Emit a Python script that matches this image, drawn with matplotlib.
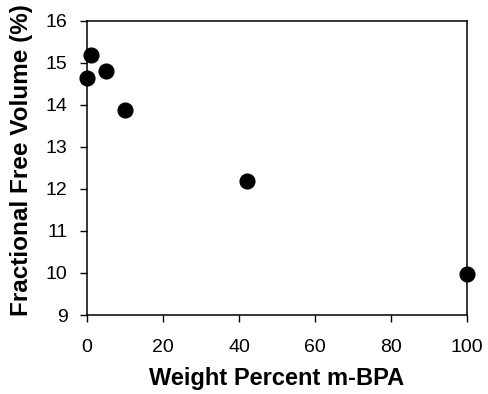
import numpy as np
import matplotlib
matplotlib.use('Agg')
import matplotlib.pyplot as plt

plt.rcParams['font.family'] = ['Liberation Sans', 'DejaVu Sans']

# data
wt_mbpa = [0, 1, 5, 10, 42, 100]
ffv = [14.63, 15.18, 14.81, 13.87, 12.18, 9.97]

xticks = [0, 20, 40, 60, 80, 100]
yticks = [9, 10, 11, 12, 13, 14, 15, 16]

fig = plt.figure(figsize=(4.89, 3.94), dpi=100)
ax = fig.add_axes([0.178, 0.2005, 0.777, 0.747])

ax.plot(wt_mbpa, ffv, 'o', color='k', markersize=10.6, clip_on=False, zorder=3)

ax.set_xlim(0, 100)
ax.set_ylim(9, 16)
ax.set_xticks(xticks)
ax.set_yticks(yticks)
ax.tick_params(axis='x', direction='out', length=5, width=1, pad=12, labelsize=14)
ax.tick_params(axis='y', direction='out', length=5, width=1, pad=9, labelsize=14)

for s in ax.spines.values():
    s.set_linewidth(1.1)

ax.set_xlabel('Weight Percent m-BPA', fontsize=17, fontweight='bold')
ax.set_ylabel('Fractional Free Volume (%)', fontsize=17.5, fontweight='bold')
ax.xaxis.set_label_coords(0.5, -0.175)
ax.yaxis.set_label_coords(-0.142, 0.525)

fig.savefig('out.png', dpi=100)
